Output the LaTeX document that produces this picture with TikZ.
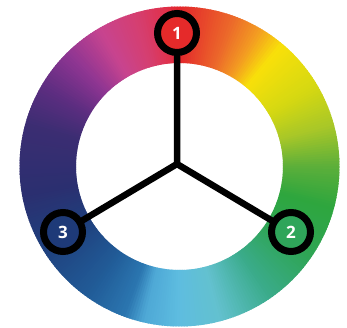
\documentclass[tikz,border=0pt]{standalone}
\usepackage{fontspec}
\setmainfont{Open Sans}
\definecolor{k01}{HTML}{E3262B}
\definecolor{k02}{HTML}{EC6A2A}
\definecolor{k03}{HTML}{F39A22}
\definecolor{k04}{HTML}{F8E00A}
\definecolor{k05}{HTML}{D4D812}
\definecolor{k06}{HTML}{A8C728}
\definecolor{k07}{HTML}{5CAF3A}
\definecolor{k08}{HTML}{2EA63E}
\definecolor{k09}{HTML}{2FA556}
\definecolor{k10}{HTML}{3AAB8A}
\definecolor{k11}{HTML}{63C1CF}
\definecolor{k12}{HTML}{5EBDE0}
\definecolor{k13}{HTML}{4EA8D6}
\definecolor{k14}{HTML}{2B76B0}
\definecolor{k15}{HTML}{215C98}
\definecolor{k16}{HTML}{1F3F7C}
\definecolor{k17}{HTML}{2B2F70}
\definecolor{k18}{HTML}{3B2D72}
\definecolor{k19}{HTML}{5C2D80}
\definecolor{k20}{HTML}{8E3592}
\definecolor{k21}{HTML}{C8448F}
\definecolor{k22}{HTML}{D63E6E}
\definecolor{k23}{HTML}{E0304A}
\definecolor{mredc}{HTML}{E52A2A}
\definecolor{mgreenc}{HTML}{2FA55A}
\definecolor{mbluec}{HTML}{1E3A78}
\tikzset{
  marker/.style={circle, draw=black, line width=7pt, minimum size=39pt, inner sep=0pt,
    text=white, font=\fontsize{17}{17}\selectfont\bfseries},
  spoke/.style={draw=black, line width=6.5pt, line cap=round, line join=round}
}
\begin{document}
\begin{tikzpicture}[x=1pt,y=1pt]
\useasboundingbox (0,0) rectangle (347,328);
\fill[white] (0,0) rectangle (347,328);
\begin{scope}[shift={(179.5,161.5)}]
\foreach \aA/\cA/\aB/\cB in {90/k01/70/k02, 70/k02/60/k03, 60/k03/50/k04, 50/k04/30/k05, 30/k05/15/k06, 15/k06/0/k07, 0/k07/-15/k08, -15/k08/-35/k09, -35/k09/-55/k10, -55/k10/-75/k11, -75/k11/-90/k12, -90/k12/-103/k13, -103/k13/-110/k14, -110/k14/-125/k15, -125/k15/-150/k16, -150/k16/-170/k17, -170/k17/-195/k18, -195/k18/-210/k19, -210/k19/-225/k20, -225/k20/-240/k21, -240/k21/-255/k22, -255/k22/-265/k23, -265/k23/-270/k01}{
  \pgfmathtruncatemacro\n{\aA-\aB}
  \pgfmathtruncatemacro\nm{\n-1}
  \foreach \i in {0,...,\nm}{
    \pgfmathtruncatemacro\p{100*(\i+0.5)/\n}
    \pgfmathsetmacro\s{\aA-\i}
    \pgfmathsetmacro\e{\aA-\i-1.5}
    \fill[\cB!\p!\cA] (\s:160pt) arc[start angle=\s, end angle=\e, radius=160pt] -- (\e:103.5pt) arc[start angle=\e, end angle=\s, radius=103.5pt] -- cycle;
  }
}
\end{scope}
\coordinate (J) at (177,164);
\node[marker, fill=mredc] (m1) at (177,295) {1};
\node[marker, fill=mgreenc] (m2) at (291,96) {2};
\node[marker, fill=mbluec] (m3) at (63,96) {3};
\draw[spoke] (m1) -- (J) -- (m2);
\draw[spoke] (J) -- (m3);
\end{tikzpicture}
\end{document}
